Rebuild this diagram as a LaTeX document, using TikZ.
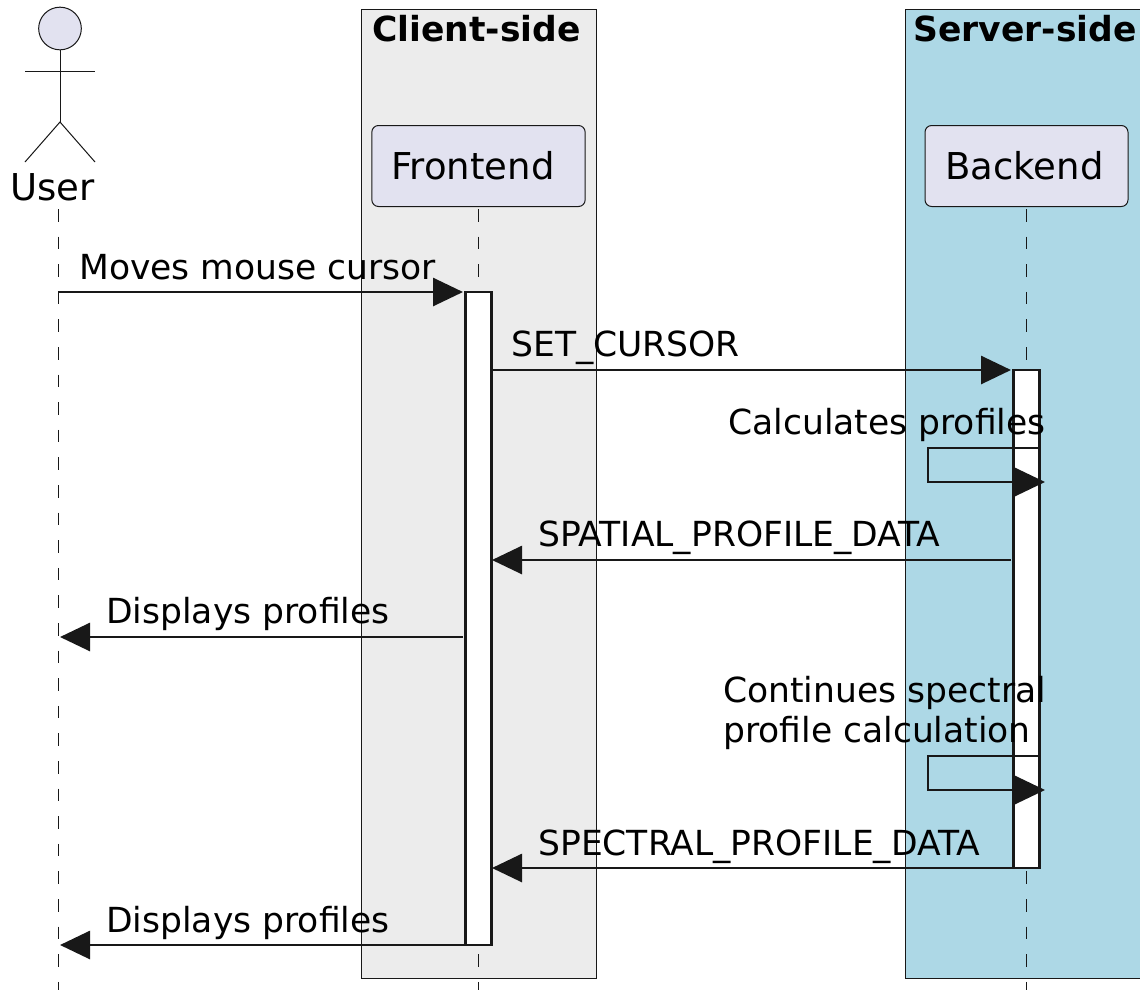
\documentclass[tikz,border=0pt]{standalone}
\usepackage{xcolor}
\usepackage{fontspec}
\setmainfont{DejaVu Sans}
\usepackage{tikz}
\usetikzlibrary{arrows.meta,positioning}
\definecolor{actorfill}{HTML}{E2E2F0}
\definecolor{clientfill}{HTML}{ECECEC}
\definecolor{serverfill}{HTML}{ADD8E6}
\definecolor{inkdark}{HTML}{181818}

\begin{document}
\begin{tikzpicture}[x=0.75pt,y=-0.75pt,
  groupbox/.style ={draw=inkdark,line width=0.75pt,anchor=north west,inner sep=0pt},
  grouptitle/.style ={font=\fontsize{25.9}{30}\selectfont\bfseries,anchor=base,inner sep=0pt},
  participant/.style ={draw=inkdark,fill=actorfill,rounded corners=5pt,line width=0.75pt,minimum height=60.75pt,inner sep=0pt},
  lifeline/.style ={draw=inkdark,line width=0.75pt,dash pattern=on 9.5pt off 11.2pt},
  stick/.style ={draw=inkdark,line width=0.75pt},
  bar/.style ={draw=inkdark,fill=white,line width=2.1pt,minimum width=20pt,inner sep=0pt},
  msg/.style ={draw=inkdark,line width=2.1pt,-{Triangle[length=22.5pt,width=21pt]}},
  msgtext/.style ={font=\fontsize{25.9}{30}\selectfont,anchor=base west,inner sep=0pt},
  headtext/.style ={font=\fontsize{27.75}{32}\selectfont,anchor=base west,inner sep=0pt}]
\useasboundingbox (0,0) rectangle (1140,990);
% group boxes
\node[groupbox,fill=clientfill,minimum width=176.25pt,minimum height=726.75pt] (client) at (361,9) {};
\fill[serverfill] (905,9) rectangle (1140,978);
\draw[inkdark,line width=0.75pt] (1140,9) -- (905,9) -- (905,978) -- (1140,978);
\node[grouptitle] (clienttitle) at (476.5,41) {Client-side};
\node[grouptitle] (servertitle) at (1025,41) {Server-side};
% lifelines
\coordinate (usertop) at (58,209);
\coordinate (userend) at (58,990);
\coordinate (fronttop) at (478,209);
\coordinate (frontend) at (478,990);
\coordinate (backtop) at (1026,209);
\coordinate (backend) at (1026,990);
\draw[lifeline] (usertop) -- (userend);
\draw[lifeline] (fronttop) -- (frontend);
\draw[lifeline] (backtop) -- (backend);
% actor
\node[circle,draw=inkdark,fill=actorfill,line width=0.75pt,minimum size=32pt,inner sep=0pt] (head) at (60,28.5) {};
\coordinate (hip) at (60,122);
\coordinate (armL) at (25,71);
\coordinate (armR) at (95,71);
\coordinate (footL) at (25,162);
\coordinate (footR) at (95,162);
\draw[stick] (head) -- (hip);
\draw[stick] (armL) -- (armR);
\draw[stick] (footL) -- (hip) -- (footR);
\node[headtext] (user) at (10,200) {User};
% participants
\node[participant,minimum width=160pt] (front) at (478.5,166) {};
\node[headtext] (fronttext) at (391,179) {Frontend};
\node[participant,minimum width=152.25pt] (back) at (1026.5,166) {};
\node[headtext] (backtext) at (945,179) {Backend};
% activations
\node[bar,minimum height=489.75pt] (barF) at (478.5,618.5) {};
\node[bar,minimum height=373.5pt] (barB) at (1026.5,619) {};
% messages
\coordinate (m1) at (58,292);
\coordinate (m1end) at (463,292);
\draw[msg] (m1) -- (m1end);
\node[msgtext] (m1text) at (79,279) {Moves mouse cursor};
\coordinate (m2) at (492,370);
\coordinate (m2end) at (1011,370);
\draw[msg] (m2) -- (m2end);
\node[msgtext] (m2text) at (511,356) {SET\_CURSOR};
\coordinate (s1a) at (1040,448);
\coordinate (s1b) at (928,448);
\coordinate (s1c) at (928,482);
\coordinate (s1d) at (1045,482);
\draw[msg] (s1a) -- (s1b) -- (s1c) -- (s1d);
\node[msgtext] (s1text) at (728,434) {Calculates profiles};
\coordinate (m3) at (1011,560);
\coordinate (m3end) at (492,560);
\draw[msg] (m3) -- (m3end);
\node[msgtext] (m3text) at (538,546) {SPATIAL\_PROFILE\_DATA};
\coordinate (m4) at (463,637);
\coordinate (m4end) at (60,637);
\draw[msg] (m4) -- (m4end);
\node[msgtext] (m4text) at (106,623) {Displays profiles};
\coordinate (s2a) at (1040,756);
\coordinate (s2b) at (928,756);
\coordinate (s2c) at (928,790);
\coordinate (s2d) at (1045,790);
\draw[msg] (s2a) -- (s2b) -- (s2c) -- (s2d);
\node[msgtext] (s2text) at (723,702) {Continues spectral};
\node[msgtext] (s2textb) at (723,742) {profile calculation};
\coordinate (m5) at (1013,868);
\coordinate (m5end) at (492,868);
\draw[msg] (m5) -- (m5end);
\node[msgtext] (m5text) at (538,855) {SPECTRAL\_PROFILE\_DATA};
\coordinate (m6) at (465,945);
\coordinate (m6end) at (60,945);
\draw[msg] (m6) -- (m6end);
\node[msgtext] (m6text) at (106,932) {Displays profiles};
\end{tikzpicture}
\end{document}
